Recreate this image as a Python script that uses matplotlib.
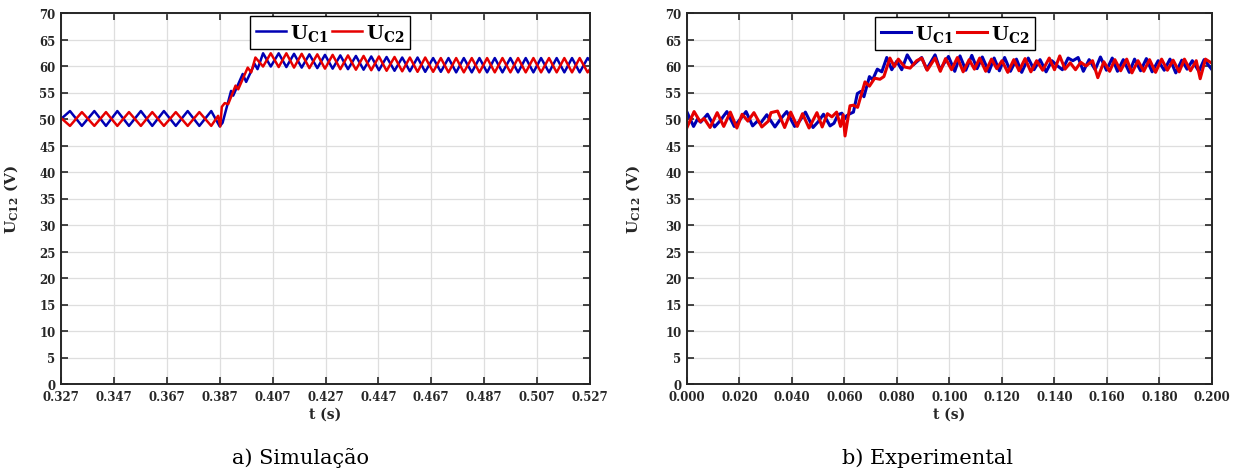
import matplotlib
matplotlib.use("Agg")
import matplotlib.pyplot as plt

plt.rcParams['mathtext.fontset'] = 'dejavuserif'
plt.rcParams['font.family'] = ['DejaVu Serif']

# ---------------- data: a) simulation ----------------
sim_t_c1 = [0.3270, 0.3304, 0.3349, 0.3396, 0.3440, 0.3483, 0.3527, 0.3572, 0.3615, 0.3659,
            0.3704, 0.3749, 0.3793, 0.3838, 0.3870,
            0.3881, 0.3913, 0.3921, 0.3957, 0.3970, 0.4002, 0.4013,
            0.4034, 0.4063, 0.4093, 0.4122, 0.4151, 0.4180, 0.4209, 0.4239, 0.4268, 0.4297,
            0.4326, 0.4355, 0.4385, 0.4414, 0.4443, 0.4472, 0.4501, 0.4531, 0.4560, 0.4589,
            0.4618, 0.4647, 0.4677, 0.4706, 0.4735, 0.4764, 0.4793, 0.4823, 0.4852, 0.4881,
            0.4910, 0.4939, 0.4969, 0.4998, 0.5027, 0.5056, 0.5085, 0.5115, 0.5144, 0.5173,
            0.5202, 0.5231, 0.5261, 0.5270]
sim_u_c1 = [50.0, 51.5, 48.7, 51.5, 48.7, 51.5, 48.7, 51.5, 48.7, 51.5,
            48.7, 51.5, 48.7, 51.5, 48.6,
            49.3, 55.3, 54.4, 58.5, 57.0, 60.4, 59.4,
            62.4, 59.9, 62.4, 59.8, 62.3, 59.7, 62.2, 59.6, 62.1, 59.5,
            62.0, 59.4, 61.9, 59.3, 61.8, 59.2, 61.7, 59.1, 61.6, 59.0,
            61.6, 58.9, 61.5, 58.9, 61.5, 58.8, 61.5, 58.8, 61.5, 58.8,
            61.5, 58.8, 61.5, 58.8, 61.5, 58.8, 61.5, 58.8, 61.5, 58.8,
            61.5, 58.8, 61.5, 61.0]

sim_t_c2 = [0.3270, 0.3304, 0.3349, 0.3396, 0.3440, 0.3483, 0.3527, 0.3572, 0.3615, 0.3659,
            0.3704, 0.3749, 0.3793, 0.3838, 0.3864, 0.3872,
            0.3878, 0.3889, 0.3902, 0.3930, 0.3940, 0.3976, 0.3989, 0.4005,
            0.4034, 0.4063, 0.4093, 0.4122, 0.4151, 0.4180, 0.4209, 0.4239, 0.4268, 0.4297,
            0.4326, 0.4355, 0.4385, 0.4414, 0.4443, 0.4472, 0.4501, 0.4531, 0.4560, 0.4589,
            0.4618, 0.4647, 0.4677, 0.4706, 0.4735, 0.4764, 0.4793, 0.4823, 0.4852, 0.4881,
            0.4910, 0.4939, 0.4969, 0.4998, 0.5027, 0.5056, 0.5085, 0.5115, 0.5144, 0.5173,
            0.5202, 0.5231, 0.5261, 0.5270]
sim_u_c2 = [50.2, 48.7, 51.3, 48.7, 51.3, 48.7, 51.3, 48.7, 51.3, 48.7,
            51.3, 48.7, 51.3, 48.7, 50.6, 48.6,
            52.3, 53.0, 52.8, 56.3, 55.6, 59.7, 58.8, 61.6,
            59.9, 62.4, 59.8, 62.4, 59.7, 62.3, 59.6, 62.2, 59.5, 62.1,
            59.4, 62.0, 59.3, 61.9, 59.2, 61.8, 59.1, 61.7, 59.0, 61.6,
            58.9, 61.6, 58.9, 61.5, 58.8, 61.5, 58.8, 61.5, 58.8, 61.5,
            58.8, 61.5, 58.8, 61.5, 58.8, 61.5, 58.8, 61.5, 58.8, 61.5,
            58.8, 61.5, 58.8, 59.4]

# ---------------- data: b) experimental ----------------
exp_t_c1 = [0.0000, 0.0025, 0.0040, 0.0052, 0.0078, 0.0105, 0.0125, 0.0152, 0.0180, 0.0200,
            0.0225, 0.0250, 0.0268, 0.0280, 0.0304, 0.0335, 0.0355, 0.0380, 0.0410, 0.0430,
            0.0451, 0.0480, 0.0500, 0.0520, 0.0545, 0.0560, 0.0575, 0.0590, 0.0600, 0.0608,
            0.0621, 0.0634, 0.0649, 0.0662, 0.0674, 0.0695, 0.0707, 0.0725, 0.0742, 0.0761,
            0.0780, 0.0799, 0.0818, 0.0839, 0.0862, 0.0880, 0.0894, 0.0913, 0.0945, 0.0964,
            0.0996, 0.1020, 0.1040, 0.1062, 0.1085, 0.1105, 0.1125, 0.1150, 0.1170, 0.1190,
            0.1210, 0.1232, 0.1255, 0.1275, 0.1300, 0.1322, 0.1345, 0.1368, 0.1390, 0.1412,
            0.1430, 0.1452, 0.1470, 0.1490, 0.1510, 0.1532, 0.1555, 0.1575, 0.1598, 0.1620,
            0.1640, 0.1662, 0.1685, 0.1705, 0.1728, 0.1750, 0.1772, 0.1795, 0.1818, 0.1840,
            0.1862, 0.1885, 0.1905, 0.1925, 0.1950, 0.1970, 0.2000]
exp_u_c1 = [51.3, 48.6, 50.0, 49.4, 50.9, 48.5, 49.6, 51.4, 48.6, 49.8,
            51.4, 48.7, 49.6, 49.2, 50.8, 48.5, 49.9, 51.4, 48.6, 49.7,
            51.3, 48.4, 49.5, 50.9, 48.7, 49.2, 50.8, 51.1, 50.0, 50.6,
            51.0, 51.3, 54.8, 55.2, 54.2, 58.0, 57.4, 59.4, 58.9, 61.6,
            59.3, 60.9, 59.3, 62.1, 60.2, 61.0, 61.6, 59.4, 62.1, 59.3,
            61.8, 59.0, 61.9, 59.2, 62.0, 59.5, 61.7, 58.9, 61.5, 59.1,
            61.6, 59.0, 61.3, 58.8, 61.5, 59.3, 61.2, 58.9, 61.0, 60.0,
            59.3, 61.5, 61.0, 61.6, 59.0, 61.2, 59.3, 61.7, 59.2, 61.5,
            59.0, 61.2, 58.8, 61.3, 59.1, 61.4, 58.9, 61.0, 59.2, 61.3,
            58.7, 61.1, 59.4, 61.0, 59.0, 61.2, 59.3]

exp_t_c2 = [0.0000, 0.0027, 0.0050, 0.0065, 0.0088, 0.0115, 0.0140, 0.0165, 0.0190, 0.0210,
            0.0232, 0.0255, 0.0285, 0.0310, 0.0320, 0.0345, 0.0372, 0.0395, 0.0420, 0.0440,
            0.0465, 0.0495, 0.0515, 0.0535, 0.0552, 0.0570, 0.0585, 0.0595, 0.0602, 0.0621,
            0.0634, 0.0650, 0.0678, 0.0695, 0.0715, 0.0735, 0.0750, 0.0773, 0.0790, 0.0805,
            0.0830, 0.0850, 0.0875, 0.0894, 0.0915, 0.0945, 0.0965, 0.0985, 0.1008, 0.1030,
            0.1052, 0.1075, 0.1095, 0.1115, 0.1138, 0.1160, 0.1180, 0.1200, 0.1222, 0.1245,
            0.1265, 0.1288, 0.1310, 0.1332, 0.1355, 0.1380, 0.1400, 0.1420, 0.1440, 0.1460,
            0.1480, 0.1500, 0.1520, 0.1545, 0.1565, 0.1588, 0.1610, 0.1630, 0.1652, 0.1675,
            0.1695, 0.1718, 0.1740, 0.1762, 0.1785, 0.1808, 0.1830, 0.1852, 0.1875, 0.1895,
            0.1918, 0.1940, 0.1955, 0.1975, 0.2000]
exp_u_c2 = [48.4, 51.4, 49.5, 50.1, 48.4, 51.2, 48.6, 51.3, 48.3, 50.9,
            49.6, 51.2, 48.5, 49.6, 51.2, 51.5, 48.4, 51.3, 48.6, 51.0,
            48.3, 51.2, 48.5, 51.0, 50.4, 51.3, 48.6, 50.8, 46.8, 52.5,
            52.6, 52.2, 57.0, 56.2, 57.7, 57.5, 58.0, 61.5, 59.9, 61.3,
            59.8, 59.6, 61.0, 61.5, 59.2, 61.5, 59.0, 61.4, 59.3, 61.6,
            58.9, 61.2, 59.4, 61.5, 59.0, 61.3, 59.5, 61.0, 58.8, 61.2,
            59.1, 61.4, 58.9, 61.0, 59.2, 61.5, 59.3, 61.9, 59.4, 60.6,
            59.3, 60.7, 60.0, 61.0, 57.8, 60.8, 59.0, 61.2, 59.1, 61.3,
            58.7, 61.0, 59.0, 61.2, 58.8, 61.3, 59.2, 61.1, 58.9, 61.3,
            59.1, 61.0, 57.6, 61.3, 60.5]

yticks = [0, 5, 10, 15, 20, 25, 30, 35, 40, 45, 50, 55, 60, 65, 70]
sim_xticks = [0.327, 0.347, 0.367, 0.387, 0.407, 0.427, 0.447, 0.467, 0.487, 0.507, 0.527]
exp_xticks = [0.000, 0.020, 0.040, 0.060, 0.080, 0.100, 0.120, 0.140, 0.160, 0.180, 0.200]
captions = ['a) Simulação', 'b) Experimental']
labels = [r'$\mathbf{U_{C1}}$', r'$\mathbf{U_{C2}}$']

BLUE = '#0000B4'
RED = '#E60000'
TXT = '#262626'

fig = plt.figure(figsize=(12.46, 4.77), dpi=100)
W, H = 1246, 477
axL = fig.add_axes([61 / W, 1 - 385 / H, (590 - 61) / W, (385 - 14) / H])
axR = fig.add_axes([687 / W, 1 - 385 / H, (1212 - 687) / W, (385 - 14) / H])


def style(ax, xticks, xlim):
    ax.set_xlim(*xlim)
    ax.set_ylim(0, 70)
    ax.set_xticks(xticks)
    ax.set_xticklabels(['%.3f' % v for v in xticks])
    ax.set_yticks(yticks)
    ax.grid(True, color='#dedede', linewidth=0.9)
    ax.set_axisbelow(True)
    ax.tick_params(direction='in', length=5, width=1.2, top=True, right=True,
                   labelsize=8.5, colors=TXT, pad=4)
    for lab in ax.get_xticklabels() + ax.get_yticklabels():
        lab.set_fontweight('bold')
    for sp in ax.spines.values():
        sp.set_linewidth(1.4)
        sp.set_color(TXT)
    ax.set_xlabel('t (s)', fontsize=10, fontweight='bold', color=TXT, labelpad=3)
    ax.set_ylabel(r'$\mathbf{U_{C12}}$ (V)', fontsize=11, fontweight='bold', color=TXT)


style(axL, sim_xticks, (0.327, 0.527))
style(axR, exp_xticks, (0.0, 0.2))

axL.plot(sim_t_c1, sim_u_c1, color=BLUE, lw=1.8, label=labels[0])
axL.plot(sim_t_c2, sim_u_c2, color=RED, lw=1.8, label=labels[1])
axR.plot(exp_t_c1, exp_u_c1, color=BLUE, lw=2.2, label=labels[0])
axR.plot(exp_t_c2, exp_u_c2, color=RED, lw=2.2, label=labels[1])

axL.yaxis.set_label_coords(-0.078, 0.5)
axR.yaxis.set_label_coords(-0.085, 0.5)

for ax, anchor in ((axL, (0.357, 0.992)), (axR, (0.358, 0.989))):
    leg = ax.legend(loc='upper left', bbox_to_anchor=anchor, ncol=2, fontsize=14,
                    frameon=True, fancybox=False, framealpha=1, edgecolor='black',
                    handlelength=1.55, handletextpad=0.2, columnspacing=0.2,
                    borderpad=0.3, borderaxespad=0)
    leg.get_frame().set_linewidth(1.0)

fig.text(301 / W, 1 - 458 / H, captions[0], ha='center', va='center', fontsize=15)
fig.text(927 / W, 1 - 458 / H, captions[1], ha='center', va='center', fontsize=15)

fig.savefig('out.png', dpi=100)
